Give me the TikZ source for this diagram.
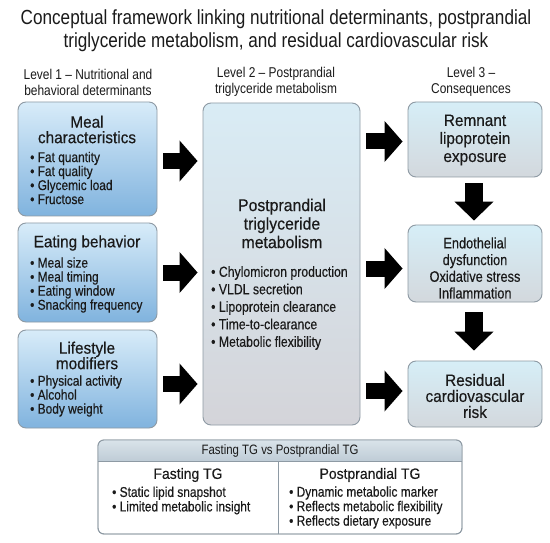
\documentclass[tikz,border=0pt]{standalone}
\usepackage{fontspec}
\setmainfont{Liberation Sans}[FakeStretch=0.84]
\newfontfamily\tfont{Liberation Sans}[FakeStretch=0.93,FakeBold=0.35]
\newfontfamily\bfont{Liberation Sans}[FakeStretch=0.84,FakeBold=0.35]
\usetikzlibrary{arrows.meta,calc}
\definecolor{lbtop}{HTML}{D8ECF9}
\definecolor{lbbot}{HTML}{80B3DE}
\definecolor{mtop}{HTML}{D9ECF5}
\definecolor{mbot}{HTML}{D4D4D9}
\definecolor{rtop}{HTML}{D6EEF7}
\definecolor{rbot}{HTML}{D3D8DD}
\definecolor{edge}{HTML}{8E9AA4}
\definecolor{htop}{HTML}{D9E3EA}
\definecolor{hbot}{HTML}{BFCCD6}
\definecolor{txt}{HTML}{1A1A1A}
\tikzset{
  boxbase/.style={draw=edge, line width=0.9pt, rounded corners=8pt, inner sep=0pt},
  lbox/.style={boxbase, top color=lbtop, bottom color=lbbot},
  mbox/.style={boxbase, top color=mtop, bottom color=mbot},
  rbox/.style={boxbase, top color=rtop, bottom color=rbot},
  bigarrow/.style={line width=16pt, -{Triangle[length=18pt,width=40pt]}, black},
  downarrow/.style={line width=18pt, -{Triangle[length=19pt,width=38pt]}, black},
  ttl/.style={align=center, inner sep=0pt, text=txt},
  lst/.style={align=left, anchor=west, inner sep=0pt, text=txt},
}
\begin{document}
\begin{tikzpicture}[x=1pt,y=-1pt]
\useasboundingbox (0,0) rectangle (550,543);
\fill[white] (0,0) rectangle (550,543);

% title
\node[ttl, font=\fontsize{20.4}{23}\selectfont] (title) at (276,30.5)
  {Conceptual framework linking nutritional determinants, postprandial\\triglyceride metabolism, and residual cardiovascular risk};

% level headings
\node[ttl, font=\fontsize{14.2}{16}\selectfont] (lv1) at (88,82) {Level 1 -- Nutritional and\\behavioral determinants};
\node[ttl, font=\fontsize{14.2}{16}\selectfont] (lv2) at (276,82) {Level 2 -- Postprandial\\triglyceride metabolism};
\node[ttl, font=\fontsize{14.2}{16}\selectfont] (lv3) at (471,82) {Level 3 --\\Consequences};

% left boxes
\node[lbox, minimum width=139pt, minimum height=114pt] (meal) at (87.5,159) {};
\node[lbox, minimum width=139pt, minimum height=99pt] (eat) at (87.5,272.5) {};
\node[lbox, minimum width=139pt, minimum height=98pt] (life) at (87.5,379) {};

\node[ttl, font={\tfont\fontsize{16.5}{15.5}\selectfont}] (mealt) at (87,129.5) {Meal\\characteristics};
\node[lst, font={\bfont\fontsize{14.2}{14}\selectfont}] (meall) at (30,178) {\textbullet\ Fat quantity\\\textbullet\ Fat quality\\\textbullet\ Glycemic load\\\textbullet\ Fructose};

\node[ttl, font={\tfont\fontsize{16.5}{15.5}\selectfont}] (eatt) at (87,243) {Eating behavior};
\node[lst, font={\bfont\fontsize{14.2}{14}\selectfont}] (eatl) at (30,285) {\textbullet\ Meal size\\\textbullet\ Meal timing\\\textbullet\ Eating window\\\textbullet\ Snacking frequency};

\node[ttl, font={\tfont\fontsize{16.5}{15.5}\selectfont}] (lifet) at (87,355.5) {Lifestyle\\modifiers};
\node[lst, font={\bfont\fontsize{14.2}{14}\selectfont}] (lifel) at (30,396) {\textbullet\ Physical activity\\\textbullet\ Alcohol\\\textbullet\ Body weight};

% middle box
\node[mbox, minimum width=157pt, minimum height=322pt] (mid) at (281.5,264) {};
\node[ttl, font={\tfont\fontsize{17}{18.5}\selectfont}] (midt) at (282,223.5) {Postprandial\\triglyceride\\metabolism};
\node[lst, font={\bfont\fontsize{14.6}{17.5}\selectfont}] (midl) at (211,308) {\textbullet\ Chylomicron production\\\textbullet\ VLDL secretion\\\textbullet\ Lipoprotein clearance\\\textbullet\ Time-to-clearance\\\textbullet\ Metabolic flexibility};

% right boxes
\node[rbox, minimum width=134pt, minimum height=75pt] (rem) at (475,139.5) {};
\node[rbox, minimum width=134pt, minimum height=77pt] (endo) at (475,263.5) {};
\node[rbox, minimum width=134pt, minimum height=66pt] (res) at (475,394) {};

\node[ttl, font={\tfont\fontsize{16.5}{18}\selectfont}] (remt) at (475,140) {Remnant\\lipoprotein\\exposure};
\node[ttl, font={\bfont\fontsize{15.2}{16.7}\selectfont}] (endot) at (475,268) {Endothelial\\dysfunction\\Oxidative stress\\Inflammation};
\node[ttl, font={\tfont\fontsize{16.5}{16}\selectfont}] (rest) at (475,396) {Residual\\cardiovascular\\risk};

% arrows
\draw[bigarrow, shorten <=6pt, shorten >=5pt] ($(meal.east)+(0,2)$) -- ($(meal.east -| mid.west)+(0,2)$);
\draw[bigarrow, shorten <=6pt, shorten >=5pt] (eat.east) -- (eat.east -| mid.west);
\draw[bigarrow, shorten <=6pt, shorten >=5pt] ($(life.east)+(0,5)$) -- ($(life.east -| mid.west)+(0,5)$);

\draw[bigarrow, shorten <=6pt, shorten >=5pt] ($(mid.east |- rem.west)+(0,2)$) -- ($(rem.west)+(0,2)$);
\draw[bigarrow, shorten <=6pt, shorten >=5pt] ($(mid.east |- endo.west)+(0,5)$) -- ($(endo.west)+(0,5)$);
\draw[bigarrow, shorten <=6pt, shorten >=5pt] ($(mid.east |- res.west)+(0,-3)$) -- ($(res.west)+(0,-3)$);

\draw[downarrow, shorten <=6pt, shorten >=4pt] ($(rem.south)+(-1,0)$) -- ($(endo.north)+(-1,0)$);
\draw[downarrow, shorten <=10pt, shorten >=10pt] ($(endo.south)+(-1,0)$) -- ($(res.north)+(-1,0)$);

% comparison table
\node[draw=edge, line width=0.9pt, rounded corners=6pt, fill=white, minimum width=364pt, minimum height=94pt, inner sep=0pt] (tab) at (280,487) {};
\begin{scope}
  \clip[rounded corners=6pt] (98,440) rectangle (462,534);
  \shade[top color=htop, bottom color=hbot] (98,440) rectangle (462,461);
\end{scope}
\draw[edge, line width=0.9pt, rounded corners=6pt] (98,440) rectangle (462,534);
\coordinate (hl) at (98,461);
\coordinate (hr) at (462,461);
\draw[edge, line width=0.9pt] (hl) -- (hr);
\coordinate (dv1) at (278,461);
\coordinate (dv2) at (278,534);
\draw[edge, line width=0.9pt] (dv1) -- (dv2);

\node[ttl, font=\fontsize{13.6}{14}\selectfont] (hdr) at (280,451) {Fasting TG vs Postprandial TG};
\node[ttl, font={\tfont\fontsize{15}{18}\selectfont}] (fast) at (188,475) {Fasting TG};
\node[lst, font={\bfont\fontsize{14.2}{14.5}\selectfont}] (fastl) at (112,500.5) {\textbullet\ Static lipid snapshot\\\textbullet\ Limited metabolic insight};
\node[ttl, font={\tfont\fontsize{15}{18}\selectfont}] (post) at (370,475) {Postprandial TG};
\node[lst, font={\bfont\fontsize{14.2}{14.5}\selectfont}] (postl) at (289,507.5) {\textbullet\ Dynamic metabolic marker\\\textbullet\ Reflects metabolic flexibility\\\textbullet\ Reflects dietary exposure};
\end{tikzpicture}
\end{document}
